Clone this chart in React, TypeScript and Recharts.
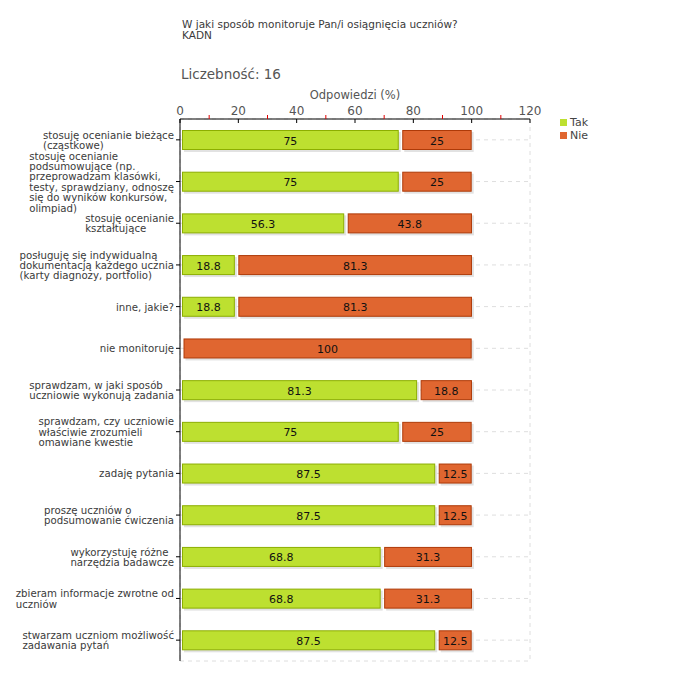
import React from 'react'
import { BarChart, Bar, XAxis, YAxis, CartesianGrid, LabelList } from 'recharts'

// categories (line breaks as in the original labels)
const categories = [
  'stosuję ocenianie bieżące\n(cząstkowe)',
  'stosuję ocenianie\npodsumowujące (np.\nprzeprowadzam klasówki,\ntesty, sprawdziany, odnoszę\nsię do wyników konkursów,\nolimpiad)',
  'stosuję ocenianie\nkształtujące',
  'posługuję się indywidualną\ndokumentacją każdego ucznia\n(karty diagnozy, portfolio)',
  'inne, jakie?',
  'nie monitoruję',
  'sprawdzam, w jaki sposób\nuczniowie wykonują zadania',
  'sprawdzam, czy uczniowie\nwłaściwie zrozumieli\nomawiane kwestie',
  'zadaję pytania',
  'proszę uczniów o\npodsumowanie ćwiczenia',
  'wykorzystuję różne\nnarzędzia badawcze',
  'zbieram informacje zwrotne od\nuczniów',
  'stwarzam uczniom możliwość\nzadawania pytań'
]
const tak = [75, 75, 56.3, 18.8, 18.8, 0, 81.3, 75, 87.5, 87.5, 68.8, 68.8, 87.5]
const nie = [25, 25, 43.8, 81.3, 81.3, 100, 18.8, 25, 12.5, 12.5, 31.3, 31.3, 12.5]
const axisTicks = [0, 10, 20, 30, 40, 50, 60, 70, 80, 90, 100, 110, 120]
const gridTicks = [0, 20, 40, 60, 80, 100, 120]
const seriesNames = ['Tak', 'Nie']

const FONT = '"DejaVu Sans", Verdana, sans-serif'
const TAK_FILL = '#bde030'
const TAK_LINE = '#8cae00'
const NIE_FILL = '#e06630'
const NIE_LINE = '#ae3a08'
const TEXT = '#3a3a3a'
const LABEL_SIZE = 10.2
const LINE_H = 10.4

const data = categories.map((name, i) => ({ name, tak: tak[i], nie: nie[i] }))

let ctx: CanvasRenderingContext2D | null = null
function measure(s: string) {
  if (!ctx) ctx = document.createElement('canvas').getContext('2d')
  if (!ctx) return s.length * 5.5
  ctx.font = `${LABEL_SIZE}px "DejaVu Sans"`
  return ctx.measureText(s).width
}

// left labels: block is left aligned, right edge next to the tick
const CategoryTick = (props: any) => {
  const { x, y, payload } = props
  const lines: string[] = String(payload.value).split('\n')
  const w = Math.max(...lines.map(measure))
  const left = x - w
  const top = y - ((lines.length - 1) * LINE_H) / 2
  return (
    <text fontFamily={FONT} fontSize={LABEL_SIZE} fill={TEXT} dominantBaseline="central">
      {lines.map((l, i) => (
        <tspan key={i} x={left} y={top + i * LINE_H}>{l}</tspan>
      ))}
    </text>
  )
}

// top axis: labelled black ticks every 20, small red ticks in between
const ValueTick = (props: any) => {
  const { x, y, payload } = props
  const axisY = y + 4
  if (payload.value % 20 !== 0) {
    return <line x1={x} x2={x} y1={axisY - 4} y2={axisY} stroke="#e00000" />
  }
  return (
    <g>
      <line x1={x} x2={x} y1={axisY} y2={axisY + 4} stroke="#000" />
      <text x={x} y={axisY - 4} textAnchor="middle" fontFamily={FONT} fontSize={12} fill="#555">
        {payload.value}
      </text>
    </g>
  )
}

const barShape = (fill: string, line: string, inset: number) => (props: any) => {
  const { x, y, width, height } = props
  if (!width || width <= inset) return <g />
  return (
    <g>
      <rect x={x + inset + 2} y={y + 2} width={width - inset} height={height} fill="#e2e2e2" />
      <rect x={x + inset + 0.5} y={y + 0.5} width={width - inset - 1} height={height - 1} fill={fill} stroke={line} />
    </g>
  )
}

const valueLabel = (inset: number) => (props: any) => {
  const { x, y, width, height, value } = props
  if (!value) return null
  return (
    <text
      x={x + inset + (width - inset) / 2}
      y={y + height / 2 + 1}
      textAnchor="middle"
      dominantBaseline="central"
      fontFamily={FONT}
      fontSize={11}
      fill="#111"
    >
      {value}
    </text>
  )
}

export default function App() {
  return (
    <div style={{ position: 'absolute', left: 0, top: 0, width: 680, height: 680, background: '#fff', fontFamily: FONT }}>
      <div style={{ position: 'absolute', left: 182, top: 19, fontSize: 10.5, color: TEXT, lineHeight: '11px' }}>
        W jaki sposób monitoruje Pan/i osiągnięcia uczniów?
        <br />
        KADN
      </div>
      <div style={{ position: 'absolute', left: 181, top: 66, fontSize: 13.5, color: '#555' }}>Liczebność: 16</div>
      <div style={{ position: 'absolute', left: 180, width: 350, top: 89, fontSize: 11.5, lineHeight: '13px', color: '#555', textAlign: 'center' }}>
        Odpowiedzi (%)
      </div>

      <BarChart
        width={680}
        height={680}
        data={data}
        layout="vertical"
        margin={{ top: 89, right: 150, bottom: 19, left: 0 }}
        barSize={20}
      >
        <CartesianGrid xAxisId="grid" stroke="#dedede" strokeDasharray="4 4" />
        <XAxis
          xAxisId="grid"
          type="number"
          domain={[0, 120]}
          ticks={gridTicks}
          hide
        />
        <XAxis
          xAxisId="main"
          type="number"
          orientation="top"
          domain={[0, 120]}
          ticks={axisTicks}
          interval={0}
          height={30}
          tickSize={4}
          tickMargin={0}
          tickLine={false}
          axisLine={{ stroke: '#000' }}
          tick={ValueTick}
        />
        <YAxis
          type="category"
          dataKey="name"
          width={180}
          interval={0}
          tickSize={4}
          tickMargin={2}
          axisLine={{ stroke: '#000' }}
          tickLine={{ stroke: '#000' }}
          tick={CategoryTick}
        />
        <Bar xAxisId="main" dataKey="tak" name={seriesNames[0]} stackId="a" fill={TAK_FILL} shape={barShape(TAK_FILL, TAK_LINE, 2)} isAnimationActive={false}>
          <LabelList dataKey="tak" content={valueLabel(2)} />
        </Bar>
        <Bar xAxisId="main" dataKey="nie" name={seriesNames[1]} stackId="a" fill={NIE_FILL} shape={barShape(NIE_FILL, NIE_LINE, 3.5)} isAnimationActive={false}>
          <LabelList dataKey="nie" content={valueLabel(3.5)} />
        </Bar>
      </BarChart>

      <div style={{ position: 'absolute', left: 560, top: 116, fontSize: 11, color: '#444', lineHeight: '13px' }}>
        {seriesNames.map((s, i) => (
          <div key={s} style={{ display: 'flex', alignItems: 'center' }}>
            <span style={{ display: 'inline-block', width: 7, height: 7, background: i === 0 ? TAK_FILL : NIE_FILL, marginRight: 3 }} />
            {s}
          </div>
        ))}
      </div>
    </div>
  )
}
